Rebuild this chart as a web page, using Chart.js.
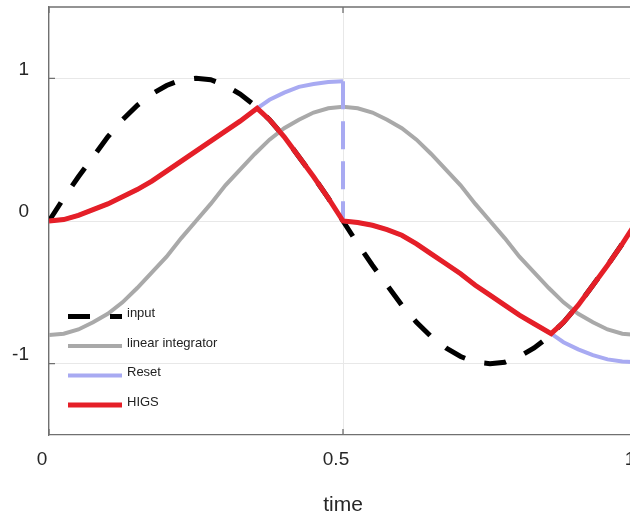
<!DOCTYPE html>
<html lang="en">
<head>
  <meta charset="UTF-8">
  <title>HIGS vs reset integrator</title>
  <script src="https://cdn.jsdelivr.net/npm/chart.js"></script>
  <style>
    html, body {
      margin: 0;
      padding: 0;
      background: #fff;
    }
    #wrap {
      width: 630px;
      height: 514px;
      overflow: hidden;
    }
  </style>
</head>
<body>

<div id="wrap">
  <canvas id="myChart" width="660" height="514"></canvas>
</div>

<script>
  // time samples shared by the input and the linear integrator
  const tGrid = [0, 0.025, 0.05, 0.075, 0.1, 0.125, 0.15, 0.175, 0.2, 0.225, 0.25,
    0.275, 0.3, 0.325, 0.35, 0.375, 0.4, 0.425, 0.45, 0.475, 0.5,
    0.525, 0.55, 0.575, 0.6, 0.625, 0.65, 0.675, 0.7, 0.725, 0.75,
    0.775, 0.8, 0.825, 0.85, 0.875, 0.9, 0.925, 0.95, 0.975, 1];

  const inputVals = [0, 0.16, 0.31, 0.45, 0.59, 0.71, 0.81, 0.89, 0.95, 0.99, 1.00,
    0.99, 0.95, 0.89, 0.81, 0.71, 0.59, 0.45, 0.31, 0.16, 0,
    -0.16, -0.31, -0.45, -0.59, -0.71, -0.81, -0.89, -0.95, -0.99, -1.00,
    -0.99, -0.95, -0.89, -0.81, -0.71, -0.59, -0.45, -0.31, -0.16, 0];

  const integratorVals = [-0.80, -0.79, -0.76, -0.71, -0.65, -0.57, -0.47, -0.36, -0.25, -0.12, 0,
    0.12, 0.25, 0.36, 0.47, 0.57, 0.65, 0.71, 0.76, 0.79, 0.80,
    0.79, 0.76, 0.71, 0.65, 0.57, 0.47, 0.36, 0.25, 0.12, 0,
    -0.12, -0.25, -0.36, -0.47, -0.57, -0.65, -0.71, -0.76, -0.79, -0.80];

  // reset integrator; the null splits the curve at the reset instant
  const resetT = [0, 0.025, 0.05, 0.075, 0.1, 0.125, 0.15, 0.175, 0.2, 0.225, 0.25,
    0.275, 0.3, 0.325, 0.354, 0.375, 0.4, 0.425, 0.45, 0.475, 0.5, 0.5, 0.5,
    0.525, 0.55, 0.575, 0.6, 0.625, 0.65, 0.675, 0.7, 0.725, 0.75,
    0.775, 0.8, 0.825, 0.854, 0.875, 0.9, 0.925, 0.95, 0.975, 1];
  const resetVals = [0, 0.01, 0.04, 0.08, 0.12, 0.17, 0.22, 0.28, 0.35, 0.42, 0.49,
    0.56, 0.63, 0.70, 0.79, 0.85, 0.90, 0.94, 0.96, 0.975, 0.98, null, 0,
    -0.01, -0.03, -0.06, -0.10, -0.16, -0.23, -0.30, -0.37, -0.45, -0.52,
    -0.59, -0.66, -0.72, -0.79, -0.85, -0.90, -0.94, -0.97, -0.985, -0.99];

  // the jump back to zero at t = 0.5
  const resetJumpT = [0.5, 0.5];
  const resetJumpVals = [0.98, 0];

  // HIGS: integrates until it meets the input, then sticks to it
  const higsT = [0, 0.025, 0.05, 0.075, 0.1, 0.125, 0.15, 0.175, 0.2, 0.225, 0.25,
    0.275, 0.3, 0.325, 0.354, 0.375, 0.4, 0.425, 0.45, 0.475, 0.5,
    0.525, 0.55, 0.575, 0.6, 0.625, 0.65, 0.675, 0.7, 0.725, 0.75,
    0.775, 0.8, 0.825, 0.854, 0.875, 0.9, 0.925, 0.95, 0.975, 1];
  const higsVals = [0, 0.01, 0.04, 0.08, 0.12, 0.17, 0.22, 0.28, 0.35, 0.42, 0.49,
    0.56, 0.63, 0.70, 0.79, 0.71, 0.59, 0.45, 0.31, 0.16, 0,
    -0.01, -0.03, -0.06, -0.10, -0.16, -0.23, -0.30, -0.37, -0.45, -0.52,
    -0.59, -0.66, -0.72, -0.79, -0.71, -0.59, -0.45, -0.31, -0.16, 0];

  const xTicks = [0, 0.5, 1];
  const yTicks = [-1, 0, 1];

  const seriesNames = ['input', 'linear integrator', 'Reset', 'HIGS'];

  let toXY = function (ts, vs) {
    return ts.map((t, i) => ({x: t, y: vs[i]}));
  };

  const fontFamily = "'Liberation Sans', Arial, Helvetica, sans-serif";
  const inputDash = [22, 20];

  // boxed frame, inward tick marks and the legend inside the plot
  let framePlugin = {
    id: 'frame',
    beforeDatasetsDraw(chart) {
      let {ctx, chartArea: a, scales} = chart;
      ctx.save();
      ctx.strokeStyle = '#707070';
      ctx.lineWidth = 1.3;
      ctx.beginPath();
      ctx.moveTo(a.left, a.top);
      ctx.lineTo(a.right, a.top);
      ctx.lineTo(a.right, a.bottom);
      ctx.stroke();
      ctx.beginPath();
      xTicks.forEach(v => {
        let px = scales.x.getPixelForValue(v);
        ctx.moveTo(px, a.bottom);
        ctx.lineTo(px, a.bottom - 6);
        ctx.moveTo(px, a.top);
        ctx.lineTo(px, a.top + 6);
      });
      yTicks.forEach(v => {
        let py = scales.y.getPixelForValue(v);
        ctx.moveTo(a.left, py);
        ctx.lineTo(a.left + 6, py);
        ctx.moveTo(a.right, py);
        ctx.lineTo(a.right - 6, py);
      });
      ctx.stroke();
      ctx.restore();
    },
    afterDraw(chart) {
      let ctx = chart.ctx;
      let x0 = 68, x1 = 122, y0 = 316.5, gap = 29.5;
      ctx.save();
      seriesNames.forEach((name, i) => {
        let ds = chart.data.datasets[i];
        let y = y0 + i * gap;
        ctx.beginPath();
        ctx.setLineDash(ds.borderDash || []);
        ctx.lineDashOffset = 0;
        ctx.strokeStyle = ds.borderColor;
        ctx.lineWidth = ds.borderWidth;
        ctx.lineCap = 'butt';
        ctx.moveTo(x0, y);
        ctx.lineTo(x1, y);
        ctx.stroke();
        ctx.setLineDash([]);
        ctx.fillStyle = '#222';
        ctx.font = '13px ' + fontFamily;
        ctx.textBaseline = 'middle';
        ctx.textAlign = 'left';
        ctx.fillText(name, x1 + 5, y - 3);
      });
      ctx.restore();
    }
  };

  const resetColor = '#a8aaf2';

  let ctx = document.getElementById('myChart').getContext('2d');
  let myChart = new Chart(ctx, {
    type: 'line',
    data: {
      datasets: [{
        label: seriesNames[0],
        data: toXY(tGrid, inputVals),
        borderColor: '#000000',
        borderWidth: 5,
        borderDash: inputDash,
        order: 5
      }, {
        label: seriesNames[1],
        data: toXY(tGrid, integratorVals),
        borderColor: '#a9a9a9',
        borderWidth: 4,
        order: 4
      }, {
        label: seriesNames[2],
        data: toXY(resetT, resetVals),
        borderColor: resetColor,
        borderWidth: 4,
        spanGaps: false,
        order: 3
      }, {
        label: seriesNames[3],
        data: toXY(higsT, higsVals),
        borderColor: '#e51f28',
        borderWidth: 5,
        order: 1
      }, {
        label: 'reset jump',
        data: toXY(resetJumpT, resetJumpVals),
        borderColor: resetColor,
        borderWidth: 4,
        borderDash: [28, 12],
        order: 2
      }]
    },
    options: {
      responsive: false,
      animation: false,
      devicePixelRatio: 1,
      layout: {
        padding: {top: 7, right: 23, left: 0, bottom: 0}
      },
      elements: {
        point: {radius: 0},
        line: {tension: 0, borderCapStyle: 'butt', borderJoinStyle: 'miter'}
      },
      plugins: {
        legend: {display: false},
        tooltip: {enabled: false}
      },
      scales: {
        x: {
          type: 'linear',
          min: 0,
          max: 1,
          afterBuildTicks: s => { s.ticks = xTicks.map(v => ({value: v})); },
          afterFit: s => {
            s.height = 79;
            s.paddingLeft = 0;
            s.paddingRight = 0;
          },
          grid: {color: '#e8e8e8', drawTicks: false},
          border: {color: '#707070', width: 1.3},
          ticks: {
            padding: 13,
            labelOffset: -7,
            color: '#262626',
            font: {family: fontFamily, size: 19},
            callback: v => String(v)
          },
          title: {
            display: true,
            text: 'time',
            color: '#262626',
            font: {family: fontFamily, size: 21},
            padding: {top: 0, bottom: -4}
          }
        },
        y: {
          min: -1.5,
          max: 1.5,
          afterBuildTicks: s => { s.ticks = yTicks.map(v => ({value: v})); },
          afterFit: s => {
            s.width = 49;
            s.paddingTop = 0;
            s.paddingBottom = 0;
          },
          grid: {color: '#e8e8e8', drawTicks: false},
          border: {color: '#707070', width: 1.3},
          ticks: {
            padding: 20,
            labelOffset: -9,
            color: '#262626',
            font: {family: fontFamily, size: 19},
            callback: v => String(v)
          }
        }
      }
    },
    plugins: [framePlugin]
  });
</script>

</body>
</html>
